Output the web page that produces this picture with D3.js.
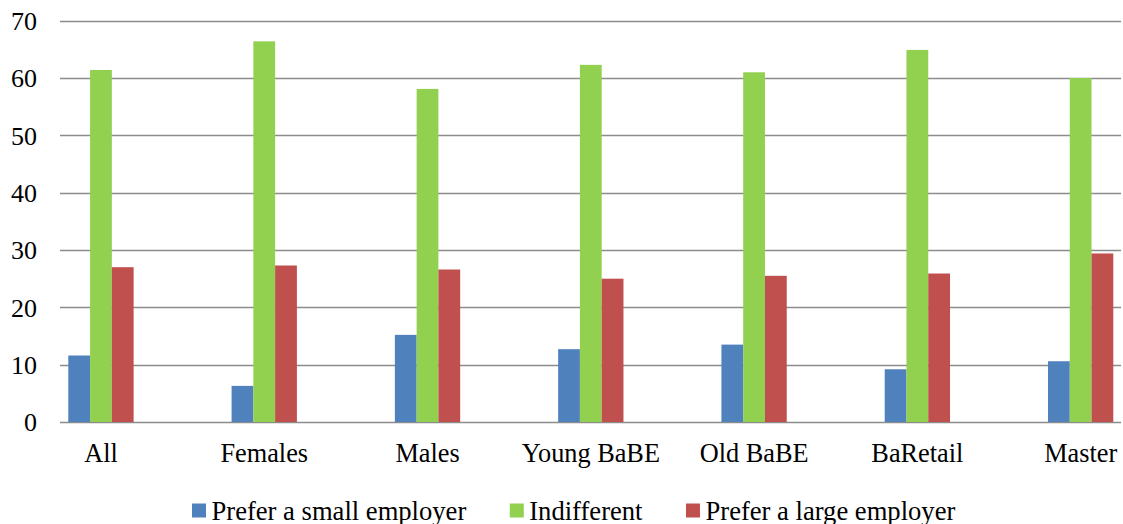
<!DOCTYPE html>
<html>
<head>
<meta charset="utf-8">
<script src="https://cdn.jsdelivr.net/npm/d3@7"></script>
<style>
  html, body { margin: 0; padding: 0; background: #fff; }
  svg { display: block; }
  text { font-family: "Liberation Serif", "Times New Roman", serif; fill: #000; }
</style>
</head>
<body>
<svg id="chart" width="1123" height="524"></svg>
<script>
// Employer-size preference by group (percent)
const categories = ["All", "Females", "Males", "Young BaBE", "Old BaBE", "BaRetail", "Master"];
const seriesNames = ["Prefer a small employer", "Indifferent", "Prefer a large employer"];
const preferSmall = [11.6, 6.3, 15.2, 12.7, 13.5, 9.2, 10.6];
const indifferent = [61.4, 66.4, 58.1, 62.3, 61.0, 64.9, 60.0];
const preferLarge = [27.0, 27.3, 26.6, 25.0, 25.5, 25.9, 29.4];
const seriesColors = ["#4F81BD", "#92D050", "#C0504D"];
const yTicks = [0, 10, 20, 30, 40, 50, 60, 70];

const seriesValues = [preferSmall, indifferent, preferLarge];
const rows = categories.map((c, i) => ({
  category: c,
  values: seriesValues.map((vals, s) => ({ series: s, value: vals[i] }))
}));

const svg = d3.select("#chart");
const plotLeft = 60, plotRight = 1121;

const y = d3.scaleLinear().domain([0, 70]).range([422, 20.7]);

const x0 = d3.scaleBand()
  .domain(categories)
  .range([68.3, 1113.3])
  .paddingInner(0.6)
  .paddingOuter(0);

const x1 = d3.scaleBand()
  .domain(d3.range(seriesNames.length))
  .range([0, x0.bandwidth()])
  .padding(0);

// Horizontal gridlines
svg.append("g")
  .selectAll("line")
  .data(yTicks)
  .join("line")
  .attr("x1", plotLeft)
  .attr("x2", plotRight)
  .attr("y1", d => Math.round(y(d)) + 0.5)
  .attr("y2", d => Math.round(y(d)) + 0.5)
  .attr("stroke", "#8c8c8c")
  .attr("stroke-width", 1.4);

// Y axis labels
const yAxis = d3.axisLeft(y).tickValues(yTicks).tickSize(0).tickPadding(0);
const yg = svg.append("g")
  .attr("transform", "translate(37,0)")
  .call(yAxis);
yg.select(".domain").remove();
yg.selectAll("text")
  .attr("font-family", "'Liberation Serif', 'Times New Roman', serif")
  .attr("font-size", 26)
  .attr("fill", "#000")
  .attr("dy", "0.34em");

// Bars
const groups = svg.append("g")
  .selectAll("g")
  .data(rows)
  .join("g")
  .attr("transform", d => `translate(${x0(d.category)},0)`);

groups.selectAll("rect")
  .data(d => d.values)
  .join("rect")
  .attr("x", d => x1(d.series))
  .attr("width", x1.bandwidth())
  .attr("y", d => y(d.value))
  .attr("height", d => y(0) - y(d.value))
  .attr("fill", d => seriesColors[d.series]);

// Category labels
const xAxis = d3.axisBottom(x0).tickSize(0).tickPadding(0);
const xg = svg.append("g")
  .attr("transform", "translate(0,462)")
  .call(xAxis);
xg.select(".domain").remove();
xg.selectAll("text")
  .attr("font-family", "'Liberation Serif', 'Times New Roman', serif")
  .attr("font-size", 26.3)
  .attr("fill", "#000")
  .attr("dy", 0);

// Legend
const legend = svg.append("g").attr("transform", "translate(192,0)");
let lx = 0;
seriesNames.forEach((name, i) => {
  const item = legend.append("g").attr("transform", `translate(${lx},0)`);
  item.append("rect")
    .attr("x", 0).attr("y", 503.5)
    .attr("width", 14).attr("height", 14)
    .attr("fill", seriesColors[i]);
  const t = item.append("text")
    .attr("x", 19.5).attr("y", 519.5)
    .attr("font-size", 26.6)
    .text(name);
  lx += 19.5 + t.node().getComputedTextLength() + 43.5;
});
</script>
</body>
</html>
